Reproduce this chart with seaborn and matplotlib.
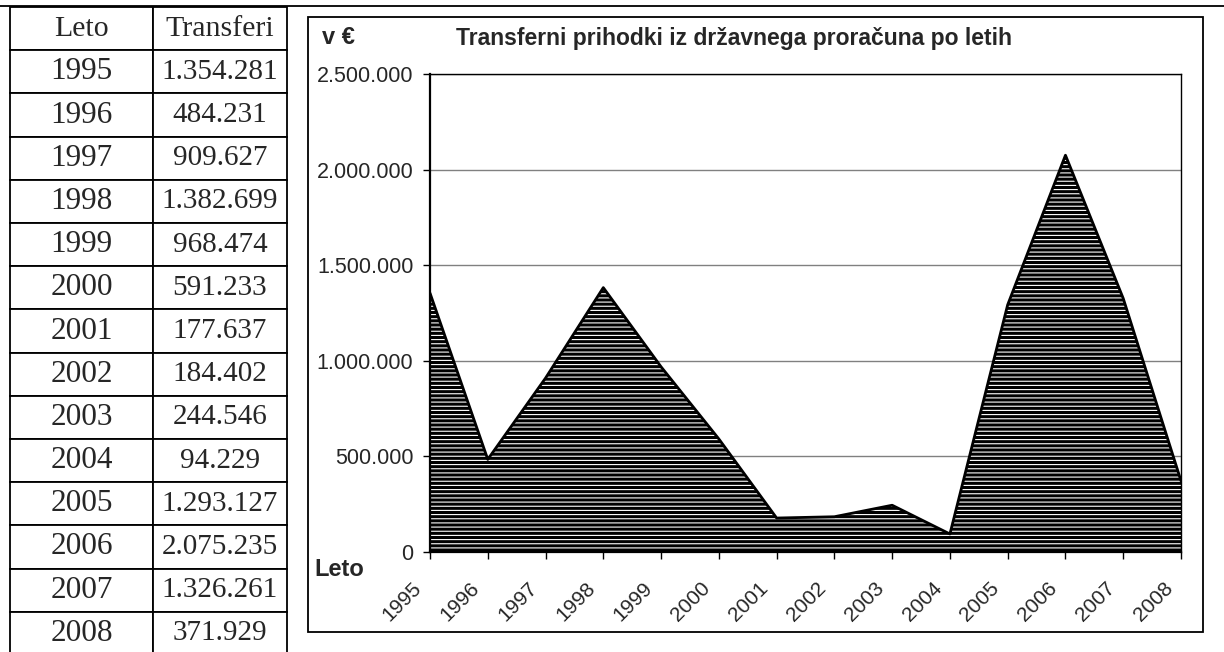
import numpy as np
import pandas as pd
import matplotlib
matplotlib.use('Agg')
import matplotlib.pyplot as plt
from matplotlib.patches import Rectangle
from matplotlib.lines import Line2D
from matplotlib.transforms import ScaledTranslation
import seaborn as sns

years = ['1995', '1996', '1997', '1998', '1999', '2000', '2001',
         '2002', '2003', '2004', '2005', '2006', '2007', '2008']
transfers = [1354281, 484231, 909627, 1382699, 968474, 591233, 177637,
             184402, 244546, 94229, 1293127, 2075235, 1326261, 371929]
y_ticks = [0, 500000, 1000000, 1500000, 2000000, 2500000]
title = 'Transferni prihodki iz državnega proračuna po letih'


def fmt(v):
    # slovenian thousands separator
    return f"{v:,.0f}".replace(',', '.')


sns.set_style('white')
plt.rcParams['font.family'] = ['Liberation Sans', 'DejaVu Sans']
plt.rcParams['hatch.linewidth'] = 0.8
plt.rcParams['hatch.color'] = 'white'

W, H = 1224, 652
fig = plt.figure(figsize=(W / 100, H / 100), dpi=100)


def box(l, t, r, b):
    return [l / W, (H - b) / H, (r - l) / W, (b - t) / H]


# --- table on the left ---
ax_t = fig.add_axes(box(10, 7, 287, 655))
ax_t.axis('off')
cells = [['Leto', 'Transferi']] + [[y, fmt(v)] for y, v in zip(years, transfers)]
tab = ax_t.table(cellText=cells, cellLoc='center', bbox=[0, 0, 1, 1],
                 colWidths=[143 / 277, 134 / 277])
tab.auto_set_font_size(False)
for (r, c), cell in tab.get_celld().items():
    cell.set_linewidth(1.3)
    size = 21.5 if r == 0 else (22.5 if c == 0 else 21)
    cell.set_text_props(family=['Liberation Serif', 'DejaVu Serif'], fontsize=size)
    if c == 1 and r > 0:
        cell._loc = 'right'
        cell.PAD = 0.06

# --- chart frame ---
fig.patches.append(Rectangle((308 / W, (H - 632) / H), 895 / W, 615 / H,
                             transform=fig.transFigure, fill=False,
                             lw=1.3, ec='black'))
fig.lines.append(Line2D([0, 1], [1 - 6 / H, 1 - 6 / H], transform=fig.transFigure,
                        color='black', lw=1.3))

ax = fig.add_axes(box(430, 74, 1181, 552))
ax.fill_between(years, transfers, 0, facecolor='black', hatch='----',
                edgecolor='white', linewidth=0, zorder=2)
sns.lineplot(x=years, y=transfers, color='black', lw=2.0, ax=ax, sort=False, zorder=3)

ax.set_xlim(0, len(years) - 1)
ax.set_ylim(0, 2500000)
ax.set_yticks(y_ticks)
ax.set_yticklabels([fmt(v) for v in y_ticks], fontsize=15.5)
ax.set_xticks(range(len(years)))
ax.set_xticklabels(years, rotation=45, ha='right', rotation_mode='anchor', fontsize=15)
ax.set_xlabel('')
ax.set_ylabel('')
ax.yaxis.grid(True, color='#808080', lw=1)
ax.xaxis.grid(False)
ax.set_axisbelow(True)
ax.tick_params(axis='both', direction='out', length=5, width=1, color='black',
               left=True, bottom=True)
ax.tick_params(axis='y', pad=7)
ax.tick_params(axis='x', pad=14)
for lab in ax.get_xticklabels():
    lab.set_transform(lab.get_transform() + ScaledTranslation(-18 / 100, 0, fig.dpi_scale_trans))
for side in ['left', 'bottom']:
    ax.spines[side].set_linewidth(1.6)
for side in ['top', 'right']:
    ax.spines[side].set_linewidth(1.0)
for s in ax.spines.values():
    s.set_color('black')

fig.text(322 / W, 1 - 38 / H, 'v €', fontweight='bold', fontsize=17, va='center')
fig.text(734 / W, 1 - 38 / H, title, fontweight='bold', fontsize=16.5,
         ha='center', va='center')
fig.text(314 / W, 1 - 569 / H, 'Leto', fontweight='bold', fontsize=17, va='center')

fig.savefig('out.png', dpi=100)
